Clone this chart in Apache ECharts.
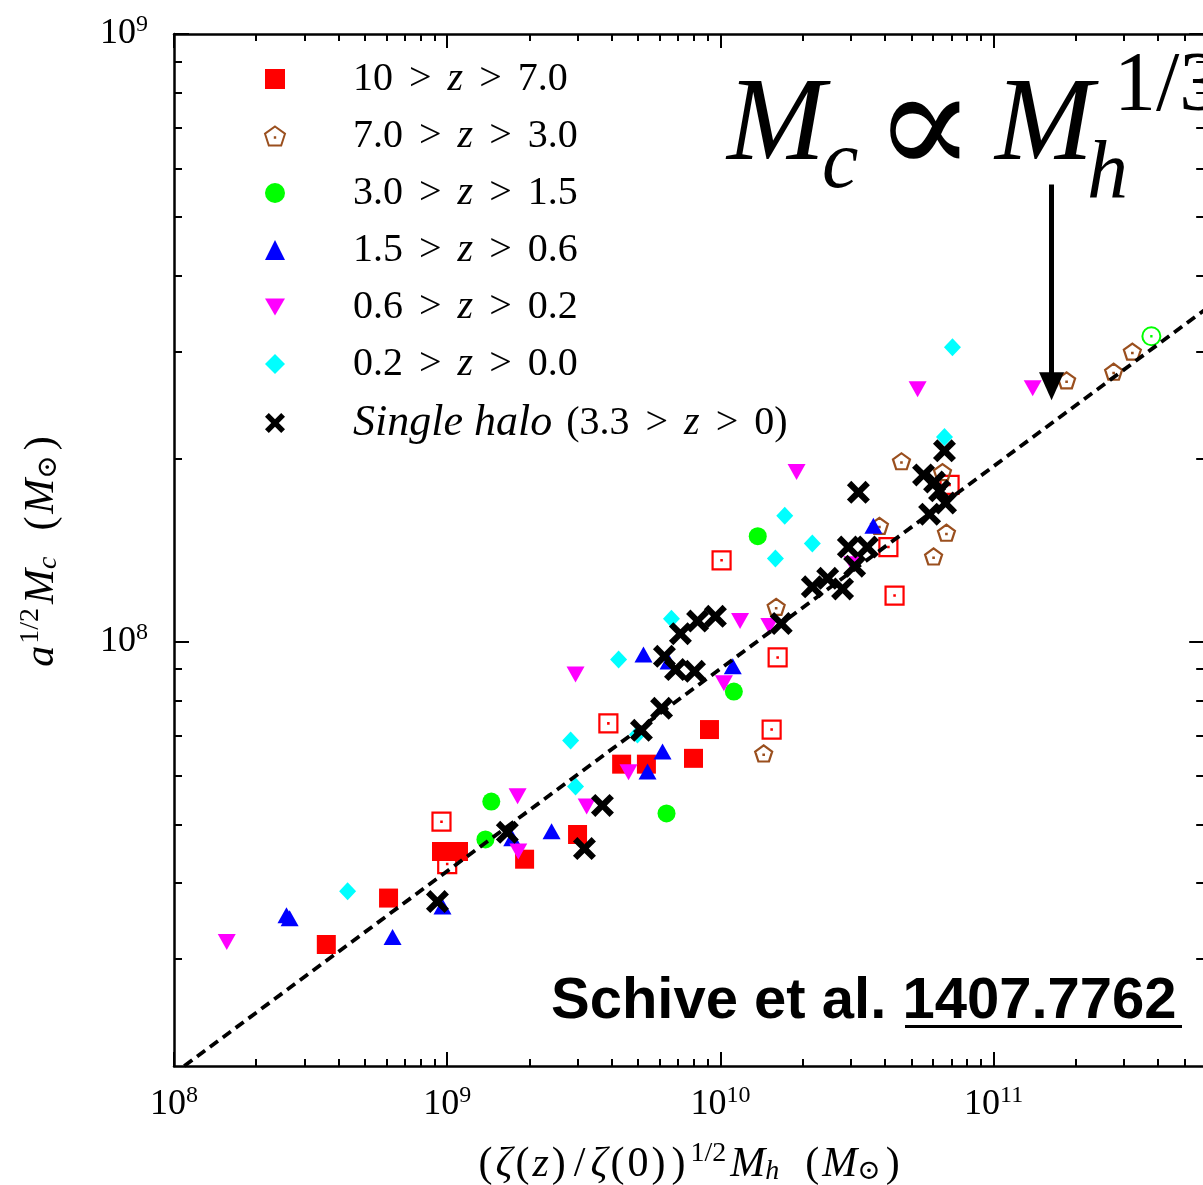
<!DOCTYPE html>
<html>
<head>
<meta charset="utf-8">
<script src="https://cdn.jsdelivr.net/npm/echarts@6/dist/echarts.min.js"></script>
<style>
  html, body { margin: 0; padding: 0; background: #fff; overflow: hidden; }
  #chart { width: 1210px; height: 1185px; }
</style>
</head>
<body>
<div id="chart"></div>
<script>
// Core mass vs. halo mass, each point [Mh (scaled), a^1/2 Mc], in solar masses.

// 10 > z > 7.0
const zBin1 = [[3.61e8,3.17e7],[6.10e8,3.78e7],[9.53e8,4.51e7],[1.10e9,4.51e7],[1.92e9,4.38e7],
  [3.00e9,4.81e7],[4.35e9,6.28e7],[5.36e9,6.28e7],[7.97e9,6.42e7],[9.12e9,7.16e7]];
// 10 > z > 7.0, open markers
const zBin1Open = [[9.53e8,5.05e7],[1.00e9,4.30e7],[3.89e9,7.33e7],[1.01e10,1.36e8],[1.62e10,9.41e7],
  [1.54e10,7.16e7],[4.12e10,1.43e8],[4.34e10,1.19e8],[6.90e10,1.81e8]];
// 7.0 > z > 3.0
const zBin2 = [[1.44e10,6.54e7],[1.60e10,1.14e8],[3.82e10,1.55e8],[4.60e10,1.98e8],[6.50e10,1.90e8],
  [6.72e10,1.51e8],[6.03e10,1.38e8],[1.85e11,2.69e8],[2.75e11,2.78e8],[3.22e11,3.00e8]];
// 3.0 > z > 1.5
const zBin3 = [[1.38e9,4.72e7],[1.45e9,5.45e7],[6.35e9,5.21e7],[1.12e10,8.27e7],[1.37e10,1.49e8]];
// 3.0 > z > 1.5, open marker
const zBin3Open = [[3.78e11,3.18e8]];
// 1.5 > z > 0.6
const zBin4 = [[2.58e8,3.54e7],[2.65e8,3.50e7],[6.31e8,3.26e7],[9.61e8,3.66e7],[1.73e9,4.74e7],
  [2.41e9,4.87e7],[5.41e9,6.11e7],[6.14e9,6.59e7],[5.23e9,9.52e7],[6.46e9,9.27e7],[1.11e10,9.10e7],
  [3.63e10,1.55e8]];
// 0.6 > z > 0.2
const zBin5 = [[1.56e8,3.20e7],[1.81e9,5.56e7],[1.82e9,4.51e7],[2.95e9,8.82e7],[3.24e9,5.35e7],
  [4.61e9,6.09e7],[1.03e10,8.53e7],[1.18e10,1.08e8],[1.51e10,1.06e8],[1.90e10,1.90e8],
  [3.04e10,1.34e8],[5.27e10,2.60e8],[1.39e11,2.61e8]];
// 0.2 > z > 0.0
const zBin6 = [[4.32e8,3.88e7],[2.83e9,6.87e7],[2.95e9,5.77e7],[4.24e9,9.34e7],[4.97e9,7.03e7],
  [6.62e9,1.09e8],[1.59e10,1.37e8],[1.72e10,1.61e8],[2.17e10,1.45e8],[6.61e10,2.17e8],[7.07e10,3.05e8]];
// Single halo tracked through 3.3 > z > 0
const singleHalo = [[9.21e8,3.73e7],[1.66e9,4.85e7],[3.18e9,4.56e7],[3.70e9,5.37e7],[5.14e9,7.14e7],
  [6.09e9,7.76e7],[6.24e9,9.45e7],[6.85e9,8.99e7],[8.04e9,8.93e7],[7.14e9,1.03e8],[8.25e9,1.08e8],
  [9.59e9,1.10e8],[1.67e10,1.07e8],[2.17e10,1.23e8],[2.47e10,1.27e8],[2.80e10,1.22e8],
  [2.94e10,1.43e8],[3.10e10,1.33e8],[3.45e10,1.43e8],[3.20e10,1.76e8],[5.54e10,1.88e8],
  [6.08e10,1.83e8],[6.34e10,1.77e8],[6.67e10,1.69e8],[5.83e10,1.62e8],[6.61e10,2.06e8]];

// Mc ∝ Mh^(1/3) relation (end points)
const scalingLine = [[1.09e8, 2.0e7], [5.9e11, 3.51e8]];
// Arrow pointing at the relation: [x, yStart], [x, yEnd]
const arrowPath = [[1.63e11, 5.65e8], [1.63e11, 2.63e8]];

// Axis ranges and ticks
const X_MIN = 1e8, X_MAX = 5.9e11;
const Y_MIN = 2e7, Y_MAX = 1e9;
const xMajorTicks = [1e8, 1e9, 1e10, 1e11];
const xMinorTicks = [2e8,3e8,4e8,5e8,6e8,7e8,8e8,9e8, 2e9,3e9,4e9,5e9,6e9,7e9,8e9,9e9,
  2e10,3e10,4e10,5e10,6e10,7e10,8e10,9e10, 2e11,3e11,4e11,5e11];
const yMajorTicks = [1e8, 1e9];
const yMinorTicks = [3e7,4e7,5e7,6e7,7e7,8e7,9e7, 2e8,3e8,4e8,5e8,6e8,7e8,8e8,9e8];

const legendLabels = {
  'bin1': '{g| }{n|10}{o|>}{i|z}{o|>}{n|7.0}',
  'bin2': '{g| }{n|7.0}{o|>}{i|z}{o|>}{n|3.0}',
  'bin3': '{g| }{n|3.0}{o|>}{i|z}{o|>}{n|1.5}',
  'bin4': '{g| }{n|1.5}{o|>}{i|z}{o|>}{n|0.6}',
  'bin5': '{g| }{n|0.6}{o|>}{i|z}{o|>}{n|0.2}',
  'bin6': '{g| }{n|0.2}{o|>}{i|z}{o|>}{n|0.0}',
  'single': '{g| }{w|Single halo}{n|(3.3}{o|>}{i|z}{o|>}{n|0)}'
};

const SERIF = '"Liberation Serif", "DejaVu Serif", serif';
const SANS = '"Liberation Sans", Arial, sans-serif';

const SQUARE_DOT = 'path://M0,0H20V20H0Z M9.8,9.8H10.2V10.2H9.8Z';
const PENTAGON_DOT = 'path://M10,0L19.51,6.91L15.88,18.09L4.12,18.09L0.49,6.91Z M9.8,10.3H10.2V10.7H9.8Z';
const CIRCLE_DOT = 'path://M0,10A10,10 0 1 1 20,10A10,10 0 1 1 0,10Z M9.8,9.8H10.2V10.2H9.8Z';
const DOWN_TRI = 'path://M0,0L20,0L10,17Z';
const CROSS = 'path://M0,1.9L1.9,0L5,3.1L8.1,0L10,1.9L6.9,5L10,8.1L8.1,10L5,6.9L1.9,10L0,8.1L3.1,5Z';

const lg = Math.log10;
const GRID = { left: 174, top: 34, width: 1030.2, height: 1032, outerBoundsMode: 'none', containLabel: false };

function supLabel(v) {
  return '{b|10}{s|' + Math.round(v) + '}';
}
const tickRich = {
  b: { fontFamily: SERIF, fontSize: 36, color: '#000' },
  s: { fontFamily: SERIF, fontSize: 24, color: '#000', padding: [0, 0, 18, 0] }
};

const titleRich = {
  u: { fontFamily: SERIF, fontSize: 42, color: '#000' },
  q: { fontFamily: SERIF, fontSize: 42, color: '#000', padding: [0, 3, 0, 3] },
  i: { fontFamily: SERIF, fontSize: 42, fontStyle: 'italic', color: '#000' },
  p: { fontFamily: SERIF, fontSize: 42, color: '#000', padding: [0, 5, 0, 5] },
  s: { fontFamily: SERIF, fontSize: 28, color: '#000', padding: [0, 4, 21, 2] },
  d: { fontFamily: SERIF, fontSize: 28, fontStyle: 'italic', color: '#000', padding: [15, 2, 0, 0] }
};

function tickAxis(pos, lo, hi, values, len, extra) {
  return Object.assign({
    type: 'value', position: pos, min: lg(lo), max: lg(hi),
    axisLine: { show: false, onZero: false },
    axisTick: { show: true, inside: true, length: len, customValues: values.map(lg),
      lineStyle: { color: '#000', width: 2 } },
    axisLabel: { show: false },
    splitLine: { show: false }
  }, extra || {});
}

const frameLine = { show: true, onZero: false, lineStyle: { color: '#000', width: 2.5 } };

const xAxes = [
  { type: 'log', logBase: 10, position: 'bottom', min: X_MIN, max: X_MAX,
    axisLine: frameLine, axisTick: { show: false }, axisLabel: { show: false }, splitLine: { show: false } },
  tickAxis('bottom', X_MIN, X_MAX, xMajorTicks, 14, {
    axisLabel: { show: true, customValues: xMajorTicks.map(lg), margin: 18,
      formatter: supLabel, rich: tickRich },
    name: '{q|(}{i|ζ}{q|(}{i|z}{q|)}{p|/}{i|ζ}{q|(}{u|0}{q|)}{q|)}{s|1/2}{i|M}{d|h}{u|  }{q|(}{i|M}{d|⊙}{q|)}',
    nameLocation: 'middle', nameGap: 74,
    nameTextStyle: { rich: titleRich }
  }),
  tickAxis('bottom', X_MIN, X_MAX, xMinorTicks, 7),
  tickAxis('top', X_MIN, X_MAX, xMajorTicks, 14, { axisLine: frameLine }),
  tickAxis('top', X_MIN, X_MAX, xMinorTicks, 7)
];

const yAxes = [
  { type: 'log', logBase: 10, position: 'left', min: Y_MIN, max: Y_MAX,
    axisLine: frameLine, axisTick: { show: false }, axisLabel: { show: false }, splitLine: { show: false } },
  tickAxis('left', Y_MIN, Y_MAX, yMajorTicks, 15, {
    axisLabel: { show: true, customValues: yMajorTicks.map(lg), margin: 26,
      formatter: supLabel, rich: tickRich },
    name: '{i|a}{s|1/2}{i|M}{d|c}{u|  }{q|(}{i|M}{d|⊙}{q|)}',
    nameLocation: 'middle', nameGap: 108, nameRotate: 90,
    nameTextStyle: { rich: titleRich }
  }),
  tickAxis('left', Y_MIN, Y_MAX, yMinorTicks, 8),
  tickAxis('right', Y_MIN, Y_MAX, yMajorTicks, 15, { axisLine: frameLine }),
  tickAxis('right', Y_MIN, Y_MAX, yMinorTicks, 8)
];

function scatter(name, data, symbol, size, style, z) {
  return { type: 'scatter', name: name, data: data, symbol: symbol, symbolSize: size,
    itemStyle: Object.assign({ opacity: 1 }, style), z: z, xAxisIndex: 0, yAxisIndex: 0,
    silent: true, animation: false };
}

const open = (c, w) => ({ color: 'rgba(0,0,0,0)', borderColor: c, borderWidth: w || 2 });

const series = [
  scatter('bin1open', zBin1Open, SQUARE_DOT, 18, open('#ff0000', 2.2), 2),
  scatter('bin2', zBin2, PENTAGON_DOT, [17, 16], open('#9a4f1e', 2.2), 2),
  scatter('bin3open', zBin3Open, CIRCLE_DOT, 18, open('#00ff00'), 2),
  scatter('bin1', zBin1, 'rect', 19, { color: '#ff0000' }, 3),
  scatter('bin3', zBin3, 'circle', 18, { color: '#00ff00' }, 3),
  scatter('bin4', zBin4, 'triangle', [18, 16], { color: '#0000ff' }, 3),
  scatter('bin5', zBin5, DOWN_TRI, [18, 16], { color: '#ff00ff' }, 3),
  scatter('bin6', zBin6, 'diamond', [17, 18], { color: '#00ffff' }, 3),
  { type: 'line', name: 'relation', data: scalingLine, showSymbol: false, symbol: 'none',
    lineStyle: { color: '#000', width: 3.8, type: [10, 6] }, z: 4, silent: true, animation: false,
    markLine: {
      silent: true, animation: false, symbol: ['none', 'triangle'], symbolSize: [25, 28],
      label: { show: false },
      lineStyle: { color: '#000', width: 5, type: 'solid' },
      data: [[{ coord: arrowPath[0] }, { coord: arrowPath[1] }]]
    } },
  scatter('single', singleHalo, CROSS, 23, { color: '#000' }, 5)
];

const annFont = (size, italic) => (italic ? 'italic ' : '') + size + 'px ' + SERIF;

const option = {
  animation: false,
  backgroundColor: '#fff',
  grid: GRID,
  xAxis: xAxes,
  yAxis: yAxes,
  legend: {
    orient: 'vertical', left: 264, top: 59, padding: 0,
    itemWidth: 20, itemHeight: 20, itemGap: 17, selectedMode: false,
    data: ['bin1', 'bin2', 'bin3', 'bin4', 'bin5', 'bin6', 'single'],
    formatter: (name) => legendLabels[name],
    textStyle: { color: '#000', rich: {
      g: { width: 63, fontSize: 40, lineHeight: 38 },
      n: { fontFamily: SERIF, fontSize: 40, lineHeight: 38, color: '#000' },
      i: { fontFamily: SERIF, fontSize: 40, lineHeight: 38, fontStyle: 'italic', color: '#000' },
      w: { fontFamily: SERIF, fontSize: 44, lineHeight: 38, fontStyle: 'italic', color: '#000', padding: [0, 14, 0, 0] },
      o: { fontFamily: SERIF, fontSize: 40, lineHeight: 38, color: '#000', padding: [0, 16, 0, 16] }
    } }
  },
  series: series,
  graphic: [
    { type: 'text', style: { x: 727, y: 128, text: 'M', font: annFont(118, true), fill: '#000', verticalAlign: 'middle' } },
    { type: 'text', style: { x: 822, y: 165, text: 'c', font: annFont(82, true), fill: '#000', verticalAlign: 'middle' } },
    { type: 'text', style: { x: 874, y: 136, text: '∝', font: annFont(150, false), fill: '#000', verticalAlign: 'middle' } },
    { type: 'text', style: { x: 995, y: 128, text: 'M', font: annFont(118, true), fill: '#000', verticalAlign: 'middle' } },
    { type: 'text', style: { x: 1087, y: 175, text: 'h', font: annFont(82, true), fill: '#000', verticalAlign: 'middle' } },
    { type: 'text', style: { x: 1114, y: 88, text: '1/3', font: annFont(84, false), fill: '#000', verticalAlign: 'middle' } },
    { type: 'text', style: { x: 551, y: 1002, text: 'Schive et al. 1407.7762', font: 'bold 58px ' + SANS, fill: '#000', verticalAlign: 'middle' } },
    { type: 'rect', shape: { x: 905, y: 1025, width: 277, height: 3 }, style: { fill: '#000' } }
  ]
};

const chart = echarts.init(document.getElementById('chart'), null, { renderer: 'canvas' });
chart.setOption(option);
</script>
</body>
</html>
